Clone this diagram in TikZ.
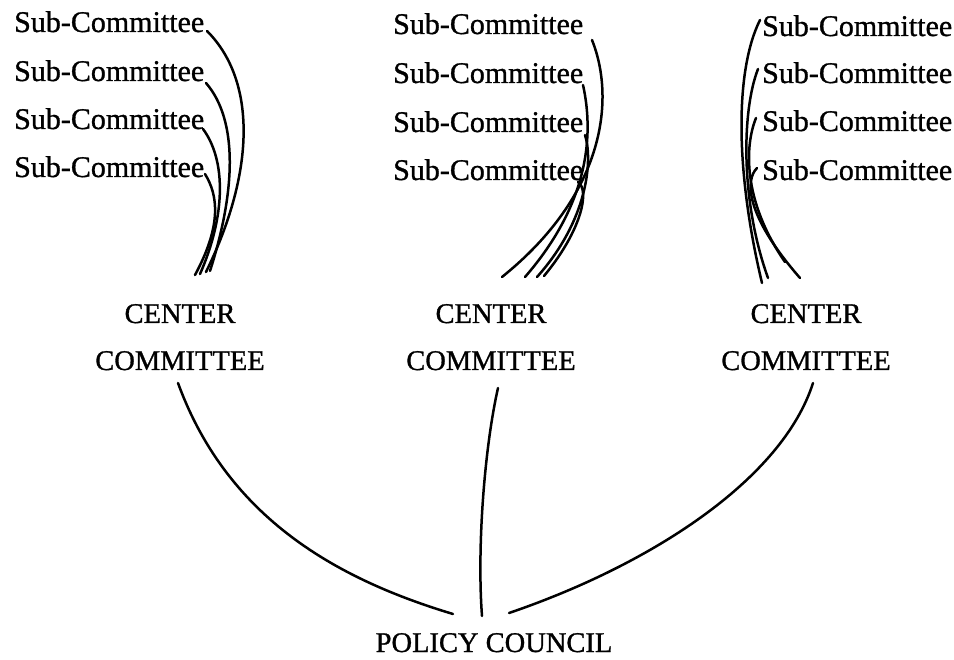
\documentclass[tikz,border=0pt]{standalone}
\usepackage{fontspec}
\setmainfont{Liberation Serif}[FakeBold=1]
\begin{document}
\begin{tikzpicture}[x=1pt,y=-1pt,
  sub/.style={anchor=base west,inner sep=0pt,font=\fontsize{30}{34}\selectfont},
  ctr/.style={align=center,inner sep=0pt,font=\fontsize{28.5}{47}\selectfont},
  link/.style={line width=2.5pt,line cap=round}]
\useasboundingbox (0,0) rectangle (954,660);
% sub-committees
\foreach \i/\y in {1/32,2/81,3/129,4/177}{
  \node[sub] (a\i) at (14,\y) {Sub-Committee};}
\foreach \i/\y in {1/34,2/83,3/132,4/180}{
  \node[sub] (b\i) at (393,\y) {Sub-Committee};}
\foreach \i/\y in {1/36,2/83,3/131,4/180}{
  \node[sub] (r\i) at (762,\y) {Sub-Committee};}
% center committees (base = baseline of last line)
\node[ctr,anchor=base] (c1) at (180,370) {CENTER\\COMMITTEE};
\node[ctr,anchor=base] (c2) at (491,370) {CENTER\\COMMITTEE};
\node[ctr,anchor=base] (c3) at (806,370) {CENTER\\COMMITTEE};
\node[ctr,anchor=base] (p) at (494,652) {POLICY COUNCIL};
% left bundle
\coordinate (la1) at (207,31);  \coordinate (le1) at (206,272);
\coordinate (la2) at (206,83);  \coordinate (le2) at (210,271);
\coordinate (la3) at (203,129); \coordinate (le3) at (200,274);
\coordinate (la4) at (205,174); \coordinate (le4) at (195,275);
\draw[link] (la1) .. controls (256,80) and (256,170) .. (le1);
\draw[link] (la2) .. controls (238,120) and (236,190) .. (le2);
\draw[link] (la3) .. controls (226,160) and (226,215) .. (le3);
\draw[link] (la4) .. controls (218,195) and (222,225) .. (le4);
% middle bundle
\coordinate (ma1) at (592,40);  \coordinate (me1) at (502,277);
\coordinate (ma2) at (583,85);  \coordinate (me2) at (525,277);
\coordinate (ma3) at (585,135); \coordinate (me3) at (537,277);
\coordinate (ma4) at (578,182); \coordinate (me4) at (544,276);
\draw[link] (ma1) .. controls (616,100) and (604,195) .. (me1);
\draw[link] (ma2) .. controls (593,130) and (592,200) .. (me2);
\draw[link] (ma3) .. controls (593,160) and (588,220) .. (me3);
\draw[link] (ma4) .. controls (590,190) and (582,230) .. (me4);
% right bundle
\coordinate (ra1) at (760,20);  \coordinate (re1) at (762,283);
\coordinate (ra2) at (758,69);  \coordinate (re2) at (768,278);
\coordinate (ra3) at (756,118); \coordinate (re3) at (785,262);
\coordinate (ra4) at (757,168); \coordinate (re4) at (800,278);
\draw[link] (ra1) .. controls (735,70) and (735,170) .. (re1);
\draw[link] (ra2) .. controls (742,110) and (740,200) .. (re2);
\draw[link] (ra3) .. controls (745,145) and (742,200) .. (re3);
\draw[link] (ra4) .. controls (745,180) and (745,215) .. (re4);
% lower connectors
\coordinate (l1) at (178,383); \coordinate (p1) at (453,614);
\coordinate (l2) at (498,388); \coordinate (p2) at (482,616);
\coordinate (l3) at (813,383); \coordinate (p3) at (509,613);
\draw[link] (l1) .. controls (228,520) and (340,580) .. (p1);
\draw[link] (l2) .. controls (484,450) and (477,550) .. (p2);
\draw[link] (l3) .. controls (782,480) and (650,565) .. (p3);
\end{tikzpicture}
\end{document}
